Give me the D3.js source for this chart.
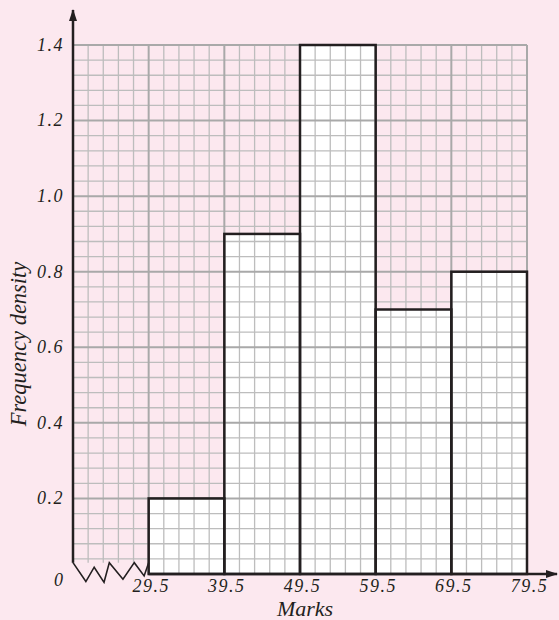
<!DOCTYPE html>
<html>
<head>
<meta charset="utf-8">
<script src="https://cdn.jsdelivr.net/npm/d3@7"></script>
<style>
  html, body { margin: 0; padding: 0; background: #fce8ef; }
  svg { display: block; }
  .lbl { font-family: "Liberation Serif", "DejaVu Serif", serif; font-style: italic; fill: #231f20; }
</style>
</head>
<body>
<svg id="chart" width="559" height="620"></svg>
<script>
// Histogram of marks: class boundaries and frequency densities
const classStarts = [29.5, 39.5, 49.5, 59.5, 69.5];
const classEnds   = [39.5, 49.5, 59.5, 69.5, 79.5];
const densities   = [0.2, 0.9, 1.4, 0.7, 0.8];

const xTickValues = [29.5, 39.5, 49.5, 59.5, 69.5, 79.5];
const yTickValues = [0.2, 0.4, 0.6, 0.8, 1.0, 1.2, 1.4];

// Broken axis: the stretch between the y axis and 29.5 is drawn as a gap
const xBreakStart = 19.5;
const zigX = [19.5, 21.2, 22.3, 23.6, 24.3, 26.1, 27.6, 28.9, 29.5];
const zigY = [0.03, -0.02, 0.018, -0.022, 0.03, -0.014, 0.03, -0.005, 0.03];

const W = 559, H = 620;
const margin = { left: 73, top: 45, right: 32, bottom: 46 };

const svg = d3.select("#chart");
const x = d3.scaleLinear().domain([xBreakStart, 79.5]).range([margin.left, W - margin.right]);
const y = d3.scaleLinear().domain([0, 1.4]).range([H - margin.bottom, margin.top]);

const ink = "#231f20";

// White bar fills sit under the grid paper
svg.append("g").selectAll("rect")
  .data(densities)
  .join("rect")
  .attr("x", (d, i) => x(classStarts[i]))
  .attr("y", d => y(d))
  .attr("width", (d, i) => x(classEnds[i]) - x(classStarts[i]))
  .attr("height", d => y(0) - y(d))
  .attr("fill", "#ffffff");

// Graph-paper grid: minor every 2 marks / 0.04, major every 10 marks / 0.2
const grid = svg.append("g");
const minorX = d3.range(0, 31).map(i => xBreakStart + i * 2);
const minorY = d3.range(0, 36).map(i => +(i * 0.04).toFixed(2));
const isMajorX = v => Math.abs(((v - xBreakStart) / 10) - Math.round((v - xBreakStart) / 10)) < 1e-6;
const isMajorY = v => Math.abs((v / 0.2) - Math.round(v / 0.2)) < 1e-6;

function drawGrid(major) {
  const col = major ? "#a9a9a9" : "#bdbdbd";
  const sw = major ? 2 : 1.3;
  grid.append("g").selectAll("line")
    .data(minorX.filter(v => isMajorX(v) === major))
    .join("line")
    .attr("x1", d => x(d)).attr("x2", d => x(d))
    .attr("y1", y(1.4))
    .attr("y2", d => d < 29.5 ? y(0.03) : y(0))
    .attr("stroke", col).attr("stroke-width", sw);
  grid.append("g").selectAll("line")
    .data(minorY.filter(v => v > 0.02 && isMajorY(v) === major))
    .join("line")
    .attr("x1", x(xBreakStart)).attr("x2", x(79.5))
    .attr("y1", d => y(d)).attr("y2", d => y(d))
    .attr("stroke", col).attr("stroke-width", sw);
}
drawGrid(false);
drawGrid(true);

// Bar outlines
svg.append("g").selectAll("rect")
  .data(densities)
  .join("rect")
  .attr("x", (d, i) => x(classStarts[i]))
  .attr("y", d => y(d))
  .attr("width", (d, i) => x(classEnds[i]) - x(classStarts[i]))
  .attr("height", d => y(0) - y(d))
  .attr("fill", "none")
  .attr("stroke", ink)
  .attr("stroke-width", 2.5);

// Axes with arrowheads
const defs = svg.append("defs");
defs.append("marker")
  .attr("id", "arrow")
  .attr("viewBox", "0 0 12 10")
  .attr("refX", 11).attr("refY", 5)
  .attr("markerWidth", 12).attr("markerHeight", 10)
  .attr("markerUnits", "userSpaceOnUse")
  .attr("orient", "auto")
  .append("path")
  .attr("d", "M0,1 L12,5 L0,9 Z")
  .attr("fill", ink);

svg.append("line")
  .attr("x1", x(xBreakStart)).attr("x2", x(xBreakStart))
  .attr("y1", y(0.03)).attr("y2", 10)
  .attr("stroke", ink).attr("stroke-width", 2.5)
  .attr("marker-end", "url(#arrow)");

svg.append("line")
  .attr("x1", x(29.5)).attr("x2", 557)
  .attr("y1", y(0)).attr("y2", y(0))
  .attr("stroke", ink).attr("stroke-width", 2.5)
  .attr("marker-end", "url(#arrow)");

// Zigzag break on the horizontal axis
svg.append("path")
  .datum(zigX.map((v, i) => [v, zigY[i]]))
  .attr("d", d3.line().x(d => x(d[0])).y(d => y(d[1])))
  .attr("fill", "none")
  .attr("stroke", ink)
  .attr("stroke-width", 1.6)
  .attr("stroke-linejoin", "miter");

// Tick labels
const fmt = d3.format(".1f");
const yAxis = svg.append("g")
  .attr("transform", `translate(${x(xBreakStart) - 9},0)`)
  .call(d3.axisLeft(y).tickValues(yTickValues).tickFormat(fmt).tickSize(0).tickPadding(0));
yAxis.select(".domain").remove();
yAxis.selectAll("text")
  .attr("class", "lbl")
  .attr("font-size", 18)
  .style("letter-spacing", "1.5px")
  .attr("dy", "0.3em");

const xAxis = svg.append("g")
  .attr("transform", `translate(0,${y(0)})`)
  .call(d3.axisBottom(x).tickValues(xTickValues).tickFormat(fmt).tickSize(0).tickPadding(0));
xAxis.select(".domain").remove();
xAxis.selectAll("text")
  .attr("class", "lbl")
  .attr("font-size", 18)
  .style("letter-spacing", "1.5px")
  .attr("dx", "2")
  .attr("y", 18)
  .attr("dy", 0);

svg.append("text")
  .attr("class", "lbl")
  .attr("x", x(xBreakStart) - 10)
  .attr("y", y(0) + 12)
  .attr("text-anchor", "end")
  .attr("font-size", 18)
  .text("0");

// Axis titles
svg.append("text")
  .attr("class", "lbl")
  .attr("x", 305).attr("y", 616)
  .attr("text-anchor", "middle")
  .attr("font-size", 22)
  .text("Marks");

svg.append("text")
  .attr("class", "lbl")
  .attr("transform", "translate(26,344) rotate(-90)")
  .attr("text-anchor", "middle")
  .attr("font-size", 22.5)
  .text("Frequency density");
</script>
</body>
</html>
